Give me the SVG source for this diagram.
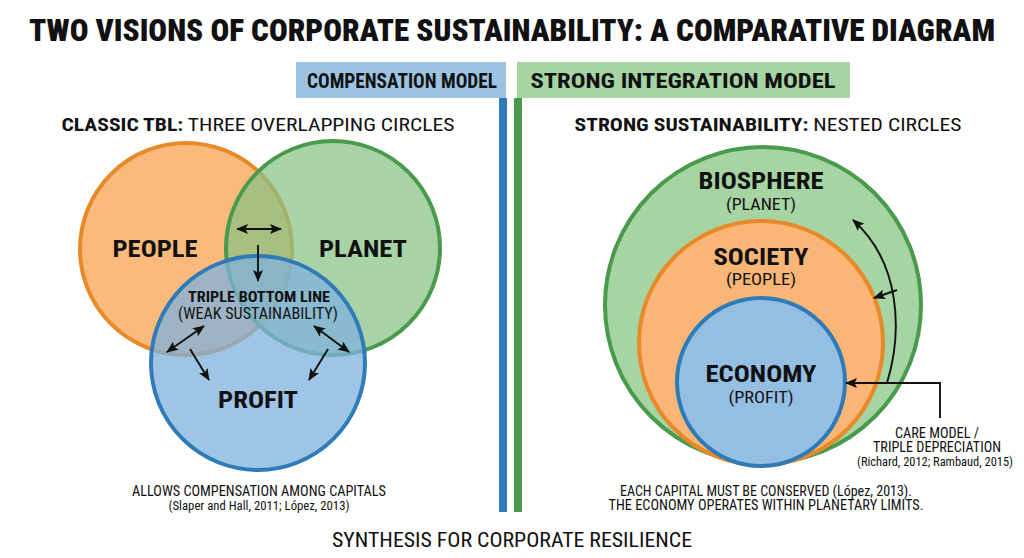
<svg xmlns="http://www.w3.org/2000/svg" width="1024" height="558" viewBox="0 0 1024 558">
<defs>
<marker id="ah" viewBox="0 0 12 10" refX="11" refY="5" markerWidth="12" markerHeight="10" orient="auto-start-reverse" markerUnits="userSpaceOnUse">
<path d="M0,0 L12,5 L0,10 L2.5,5 z" fill="#111"/>
</marker>
<style>
text{font-family:"Roboto Condensed","Liberation Sans Narrow","DejaVu Sans Condensed","Roboto","Liberation Sans",sans-serif;fill:#111;text-anchor:middle}
.b{font-weight:bold}
.t{font-size:31px;font-weight:900}
.hd{font-size:20px;font-weight:bold}
.sub{font-size:18px}
.big{font-size:24px;font-weight:bold}
.par{font-size:16px}
.sm{font-size:14px}
.xs{font-size:12px}
.ar{stroke:#111;stroke-width:1.9;fill:none}
</style>
</defs>
<rect width="1024" height="558" fill="#fff"/>
<text class="t" x="512" y="41" textLength="966" lengthAdjust="spacingAndGlyphs">TWO VISIONS OF CORPORATE SUSTAINABILITY: A COMPARATIVE DIAGRAM</text>

<g id="header-compensation">
<rect x="296" y="62" width="210" height="36" fill="#9cc4e2"/>
<text class="hd" x="402" y="88" textLength="190" lengthAdjust="spacingAndGlyphs">COMPENSATION MODEL</text>
</g>
<g id="header-integration">
<rect x="517" y="62" width="333" height="36" fill="#a6d4a3"/>
<text class="hd" x="683" y="88" textLength="305" lengthAdjust="spacingAndGlyphs">STRONG INTEGRATION MODEL</text>
</g>
<g id="divider">
<rect x="499" y="98" width="8" height="414" fill="#2f7bb8"/>
<rect x="514" y="98" width="8" height="414" fill="#4a9a4c"/>
</g>

<text class="sub" x="258" y="131" textLength="393" lengthAdjust="spacingAndGlyphs"><tspan class="b">CLASSIC TBL:</tspan> THREE OVERLAPPING CIRCLES</text>
<text class="sub" x="768" y="131" textLength="387" lengthAdjust="spacingAndGlyphs"><tspan class="b">STRONG SUSTAINABILITY:</tspan> NESTED CIRCLES</text>

<g id="people">
<circle cx="186" cy="249" r="106" fill="#f7a95a" fill-opacity="0.8" stroke="#e8892a" stroke-width="4"/>
</g>
<g id="planet">
<circle cx="333" cy="248" r="107" fill="#86c284" fill-opacity="0.72" stroke="#4a9a4c" stroke-width="4"/>
</g>
<g id="profit">
<circle cx="258" cy="363" r="107" fill="#7fb2de" fill-opacity="0.75" stroke="#2f7bb8" stroke-width="4"/>
</g>
<text class="big" x="155" y="257" textLength="85" lengthAdjust="spacingAndGlyphs">PEOPLE</text>
<text class="big" x="363" y="257" textLength="88" lengthAdjust="spacingAndGlyphs">PLANET</text>
<text class="big" x="258" y="408" textLength="80" lengthAdjust="spacingAndGlyphs">PROFIT</text>
<g id="tbl">
<text class="b" x="259" y="302" font-size="15" textLength="142" lengthAdjust="spacingAndGlyphs">TRIPLE BOTTOM LINE</text>
<text class="par" x="258" y="319" textLength="160" lengthAdjust="spacingAndGlyphs">(WEAK SUSTAINABILITY)</text>
</g>

<g id="biosphere">
<circle cx="763" cy="305" r="158" fill="#a6d4a3" stroke="#4a9a4c" stroke-width="4"/>
<text class="big" x="761" y="189" textLength="125" lengthAdjust="spacingAndGlyphs">BIOSPHERE</text>
<text class="par" x="761" y="210" textLength="70" lengthAdjust="spacingAndGlyphs">(PLANET)</text>
</g>
<g id="society">
<circle cx="761" cy="343" r="122" fill="#f9b676" stroke="#e8892a" stroke-width="4"/>
<text class="big" x="761" y="265" textLength="95" lengthAdjust="spacingAndGlyphs">SOCIETY</text>
<text class="par" x="761" y="285" textLength="70" lengthAdjust="spacingAndGlyphs">(PEOPLE)</text>
</g>
<g id="economy">
<circle cx="761" cy="382" r="84" fill="#94bfe3" stroke="#2f7bb8" stroke-width="4"/>
<text class="big" x="761" y="382" textLength="111" lengthAdjust="spacingAndGlyphs">ECONOMY</text>
<text class="par" x="761" y="403" textLength="65" lengthAdjust="spacingAndGlyphs">(PROFIT)</text>
</g>

<g id="connectors">
<line class="ar" x1="237" y1="229" x2="281" y2="229" marker-start="url(#ah)" marker-end="url(#ah)"/>
<line class="ar" x1="258" y1="245" x2="258" y2="281" marker-end="url(#ah)"/>
<line class="ar" x1="204" y1="326" x2="167" y2="352" marker-start="url(#ah)" marker-end="url(#ah)"/>
<line class="ar" x1="190" y1="349" x2="209" y2="380" marker-end="url(#ah)"/>
<line class="ar" x1="314" y1="326" x2="349" y2="352" marker-start="url(#ah)" marker-end="url(#ah)"/>
<line class="ar" x1="328" y1="349" x2="309" y2="380" marker-end="url(#ah)"/>
<path class="ar" d="M887,383 C903,330 900,262 853,220" marker-end="url(#ah)"/>
<line class="ar" x1="897" y1="290" x2="874" y2="298" marker-end="url(#ah)"/>
<path class="ar" d="M940,418 L940,383 L846,383" marker-end="url(#ah)"/>
</g>

<g id="care-label">
<text class="sm" x="937" y="438" textLength="84" lengthAdjust="spacingAndGlyphs">CARE MODEL /</text>
<text class="sm" x="937" y="452" textLength="128" lengthAdjust="spacingAndGlyphs">TRIPLE DEPRECIATION</text>
<text class="xs" x="935" y="466" textLength="156" lengthAdjust="spacingAndGlyphs">(Richard, 2012; Rambaud, 2015)</text>
</g>

<text class="sm" x="259" y="496" textLength="254" lengthAdjust="spacingAndGlyphs">ALLOWS COMPENSATION AMONG CAPITALS</text>
<text class="xs" x="259" y="510" textLength="181" lengthAdjust="spacingAndGlyphs">(Slaper and Hall, 2011; López, 2013)</text>
<text class="sm" x="766" y="496" textLength="292" lengthAdjust="spacingAndGlyphs">EACH CAPITAL MUST BE CONSERVED (López, 2013).</text>
<text class="sm" x="766" y="510" textLength="315" lengthAdjust="spacingAndGlyphs">THE ECONOMY OPERATES WITHIN PLANETARY LIMITS.</text>
<text x="512" y="547" font-size="21" textLength="360" lengthAdjust="spacingAndGlyphs">SYNTHESIS FOR CORPORATE RESILIENCE</text>
</svg>
